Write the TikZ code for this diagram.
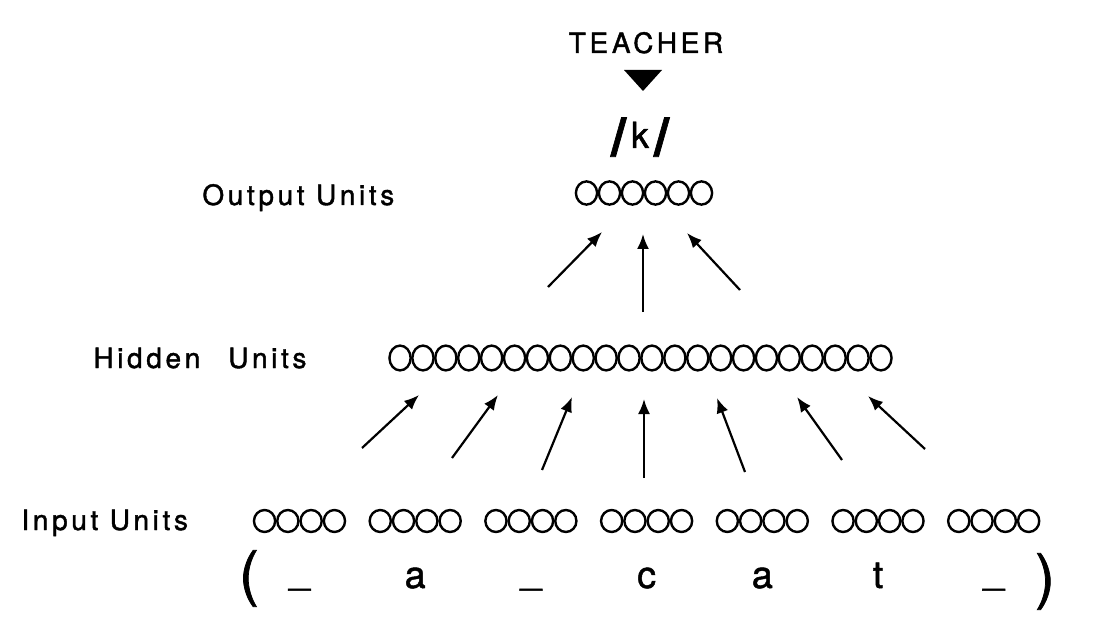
\documentclass[tikz,border=0pt]{standalone}
\usepackage{fontspec}
\setmainfont{TeX Gyre Heros}[FakeBold=1.2]
\newfontfamily\spacedfont[LetterSpace=13, FakeBold=1.4]{TeX Gyre Heros}
\usetikzlibrary{arrows.meta,shapes.geometric}

\begin{document}
\begin{tikzpicture}
      [x=0.5pt, y=-0.5pt,
       unit/.style={ellipse, draw, line width=1.2pt, inner sep=0pt,
                    minimum width=10.6pt, minimum height=11.6pt},
       layer/.style={font=\spacedfont\fontsize{14}{16}\selectfont, inner sep=0pt},
       letter/.style={font=\fontsize{19}{22}\selectfont, inner sep=0pt, anchor=base},
       paren/.style={font=\fontsize{30}{30}\selectfont, inner sep=0pt, anchor=base},
       link/.style={line width=1.1pt, -{Latex[length=7.5pt,width=6pt]}},
      ]
      \useasboundingbox (0,0) rectangle (1118,636);

      % teacher and target
      \node[layer, anchor=base] (teacher) at (646,53) {TEACHER};
      \fill (624,70) -- (662,70) -- (643,91) -- cycle;
      \node[inner sep=0pt, anchor=base, font=\fontsize{18}{20}\selectfont] (target) at (640,148)
        {{\fontsize{27}{27}\selectfont\bfseries\raisebox{-4pt}{/}}\hspace{2.5pt}k\hspace{2.5pt}{\fontsize{27}{27}\selectfont\bfseries\raisebox{-4pt}{/}}};

      % layer names
      \node[layer, anchor=base west] (outname) at (202,205) {Output Units};
      \node[layer, anchor=base west] (hidname) at (93,368) {Hidden\hspace{14pt}Units};
      \node[layer, anchor=base west] (inname) at (21,530) {Input Units};

      % units
      \foreach \i in {1,...,6}
        \node[unit] (out\i) at ({644+(\i-3.5)*23}, 193) {};
      \foreach \i in {1,...,22}
        \node[unit, minimum height=12.4pt] (hid\i) at ({640.5+(\i-11.5)*22.9}, 358) {};
      \foreach \g in {1,...,7}
        \foreach \j in {1,...,4}
          \node[unit, minimum height=11pt] (in\g-\j) at ({299.5+(\g-1)*115.7+(\j-2.5)*23.3}, 521) {};

      % input string
      \foreach \g/\ch in {1/\raisebox{2pt}{\_}, 2/a, 3/\raisebox{2pt}{\_}, 4/c, 5/a, 6/t, 7/\raisebox{2pt}{\_}}
        \node[letter] (ch\g) at ({299.5+(\g-1)*115.7}, 588) {\ch};
      \node[paren] (lparen) at (249,594) {(};
      \node[paren] (rparen) at (1045,597) {)};

      % connections
      \foreach \n/\tx/\ty/\hx/\hy in {o1/548/287/602/232, o2/643/312/643/234, o3/740/290/687/233,
          i1/362/448/419/395, i2/452/458/498/395, i3/542/470/572/397, i4/644/478/644/399,
          i5/745/472/717/398, i6/842/460/797/397, i7/925/449/868/396}
      {
        \coordinate (tail\n) at (\tx,\ty);
        \coordinate (head\n) at (\hx,\hy);
        \draw[link] (tail\n) -- (head\n);
      }
    \end{tikzpicture}
\end{document}
